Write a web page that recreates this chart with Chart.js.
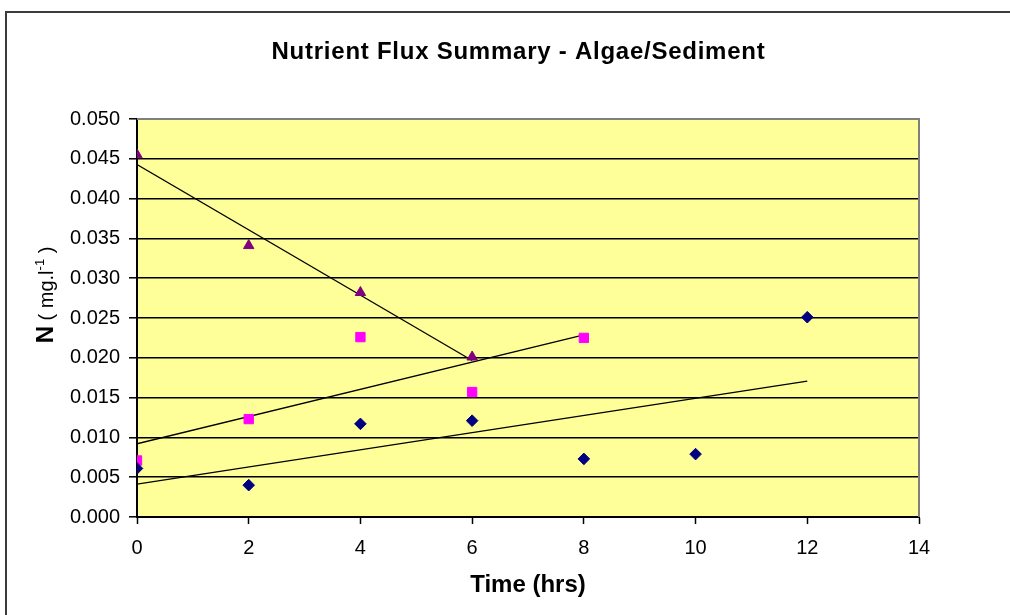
<!DOCTYPE html>
<html>
<head>
<meta charset="utf-8">
<script src="https://cdn.jsdelivr.net/npm/chart.js@4/dist/chart.umd.min.js"></script>
<style>
  html, body { margin: 0; padding: 0; background: #ffffff; overflow: hidden; }
  #wrap { position: relative; width: 1010px; height: 615px; }
  #frame { position: absolute; left: 5px; top: 11px; width: 1030px; height: 640px;
           border: 2px solid #3c3c3c; box-sizing: border-box; pointer-events: none; }
  canvas { position: absolute; left: 0; top: 0; }
</style>
</head>
<body>
<div id="wrap">
  <canvas id="c" width="1010" height="615"></canvas>
  <div id="frame"></div>
</div>
<script>
// ---- data ----
const timeSeriesA = [0, 2, 4, 6, 8, 10, 12];                       // navy diamonds
const nSeriesA    = [0.0061, 0.0040, 0.0117, 0.0121, 0.0073, 0.0079, 0.0251];
const timeSeriesB = [0, 2, 4, 6, 8];                                // magenta squares
const nSeriesB    = [0.0071, 0.0123, 0.0226, 0.0157, 0.0225];
const timeSeriesC = [0, 2, 4, 6];                                   // purple triangles
const nSeriesC    = [0.0455, 0.0341, 0.0282, 0.0201];

const chartTitle = 'Nutrient Flux Summary - Algae/Sediment';
const xTitle = 'Time (hrs)';
const xMin = 0, xMax = 14, xStep = 2;
const yMin = 0, yMax = 0.05, yStep = 0.005;

function pts(xs, ys) { return xs.map((x, i) => ({ x: x, y: ys[i] })); }

// linear least-squares trendline (as in the spreadsheet's "linear trendline")
function trend(xs, ys) {
  const n = xs.length;
  const mx = xs.reduce((a, b) => a + b, 0) / n;
  const my = ys.reduce((a, b) => a + b, 0) / n;
  let sxy = 0, sxx = 0;
  for (let i = 0; i < n; i++) { sxy += (xs[i] - mx) * (ys[i] - my); sxx += (xs[i] - mx) ** 2; }
  const b = sxy / sxx, a = my - b * mx;
  const x0 = Math.min(...xs), x1 = Math.max(...xs);
  return [{ x: x0, y: a + b * x0 }, { x: x1, y: a + b * x1 }];
}

const FONT = "'Liberation Sans', Arial, sans-serif";

const plotBg = {
  id: 'plotBg',
  beforeDraw(chart) {
    const { ctx, chartArea: a } = chart;
    ctx.save();
    ctx.fillStyle = '#FFFF99';
    ctx.fillRect(a.left, a.top, a.right - a.left, a.bottom - a.top);
    ctx.restore();
  },
  beforeDatasetsDraw(chart) {
    const { ctx, chartArea: a } = chart;
    ctx.save();
    ctx.strokeStyle = '#808080';
    ctx.lineWidth = 2;
    ctx.beginPath();
    ctx.moveTo(a.left, a.top);
    ctx.lineTo(a.right, a.top);
    ctx.lineTo(a.right, a.bottom);
    ctx.stroke();
    ctx.restore();
  }
};

const titlesPlugin = {
  id: 'titles',
  afterDraw(chart) {
    const { ctx } = chart;
    // chart title
    ctx.save();
    ctx.font = 'bold 24px ' + FONT;
    if ('letterSpacing' in ctx) ctx.letterSpacing = '0.75px';
    ctx.fillStyle = '#000';
    ctx.textAlign = 'center';
    ctx.textBaseline = 'middle';
    ctx.fillText(chartTitle, 518.5, 52);
    ctx.restore();

    // y-axis title with mixed formatting
    const parts = [
      { t: 'N', f: 'bold 24px ' + FONT, dy: 0 },
      { t: ' ( mg.l', f: '20px ' + FONT, dy: 0 },
      { t: '-1', f: '13px ' + FONT, dy: -9 },
      { t: ' )', f: '20px ' + FONT, dy: 0 }
    ];
    ctx.save();
    let total = 0;
    parts.forEach(p => { ctx.font = p.f; p.w = ctx.measureText(p.t).width; total += p.w; });
    ctx.translate(53, 295);
    ctx.rotate(-Math.PI / 2);
    ctx.fillStyle = '#000';
    ctx.textBaseline = 'alphabetic';
    ctx.textAlign = 'left';
    let x = -total / 2;
    parts.forEach(p => { ctx.font = p.f; ctx.fillText(p.t, x, p.dy); x += p.w; });
    ctx.restore();
  }
};

new Chart(document.getElementById('c'), {
  type: 'scatter',
  data: {
    datasets: [
      { label: 'A', data: pts(timeSeriesA, nSeriesA), pointStyle: 'rectRot', pointRadius: 5.8,
        backgroundColor: '#000080', borderColor: '#000080', borderWidth: 1, order: 1 },
      { label: 'B', data: pts(timeSeriesB, nSeriesB), pointStyle: 'rect', pointRadius: 6.6,
        backgroundColor: '#FF00FF', borderColor: '#FF00FF', borderWidth: 1, order: 1 },
      { label: 'C', data: pts(timeSeriesC, nSeriesC), pointStyle: 'triangle', pointRadius: 6,
        backgroundColor: '#800080', borderColor: '#800080', borderWidth: 1, order: 1 },
      { label: 'trend A', data: trend(timeSeriesA, nSeriesA), showLine: true, pointRadius: 0,
        borderColor: '#000', borderWidth: 1.3, order: 2 },
      { label: 'trend B', data: trend(timeSeriesB, nSeriesB), showLine: true, pointRadius: 0,
        borderColor: '#000', borderWidth: 1.3, order: 2 },
      { label: 'trend C', data: trend(timeSeriesC, nSeriesC), showLine: true, pointRadius: 0,
        borderColor: '#000', borderWidth: 1.3, order: 2 }
    ]
  },
  options: {
    responsive: false,
    animation: false,
    layout: { padding: { left: 0, right: 91, top: 119, bottom: 0 } },
    plugins: {
      legend: { display: false },
      tooltip: { enabled: false },
      title: { display: false }
    },
    scales: {
      x: {
        type: 'linear', min: xMin, max: xMax,
        afterFit(s) { s.height = 98; },
        ticks: { stepSize: xStep, color: '#000', font: { family: FONT, size: 20 }, padding: 12, maxRotation: 0 },
        grid: { drawOnChartArea: false, drawTicks: true, tickLength: 7, color: '#000', tickWidth: 1.5 },
        border: { display: true, color: '#000', width: 2 },
        title: { display: true, text: xTitle, color: '#000',
                 font: { family: FONT, size: 24, weight: 'bold', lineHeight: 1.2 },
                 padding: { top: 0, bottom: 15 } }
      },
      y: {
        type: 'linear', min: yMin, max: yMax,
        afterFit(s) { s.width = 137; },
        ticks: { stepSize: yStep, color: '#000', font: { family: FONT, size: 20 }, padding: 9,
                 callback: v => Number(v).toFixed(3) },
        grid: { drawOnChartArea: true, drawTicks: true, tickLength: 8,
                color: c => (c.tick && c.tick.value >= 0.0499 ? '#808080' : '#000'),
                tickColor: '#000', lineWidth: 1.6, tickWidth: 1.5 },
        border: { display: true, color: '#000', width: 2 }
      }
    }
  },
  plugins: [plotBg, titlesPlugin]
});
</script>
</body>
</html>
